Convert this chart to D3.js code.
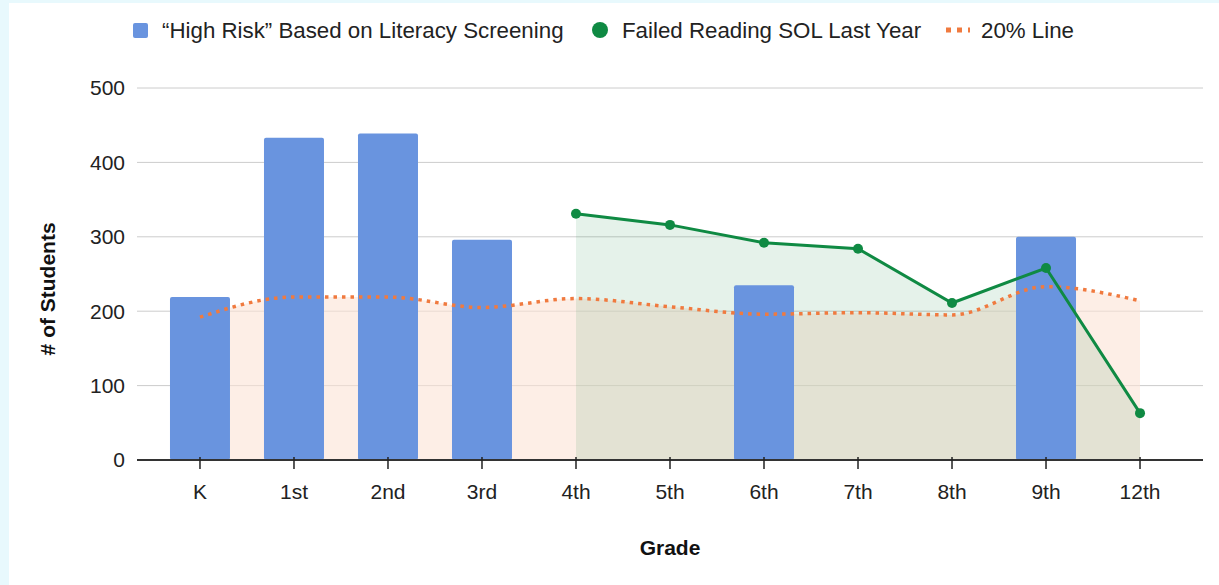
<!DOCTYPE html>
<html>
<head>
<meta charset="utf-8">
<script src="https://cdn.jsdelivr.net/npm/d3@7"></script>
<style>
  body { margin: 0; background: #e8f9fd; }
  svg { display: block; font-family: "Liberation Sans", Arial, sans-serif; }
</style>
</head>
<body>
<svg id="chart" width="1219" height="585"></svg>
<script>
const grades = ["K", "1st", "2nd", "3rd", "4th", "5th", "6th", "7th", "8th", "9th", "12th"];
const highRisk = [219, 433, 439, 296, 0, 0, 235, 0, 0, 300, 0];
const failedSOL = [null, null, null, null, 331, 316, 292, 284, 211, 258, 63];
const twentyPct = [192, 219, 219, 205, 217, 206, 196, 198, 195, 233, 214];
const yTicks = [0, 100, 200, 300, 400, 500];

const width = 1219, height = 585;
const margin = { top: 88, right: 16, bottom: 125, left: 137 };

const svg = d3.select("#chart");

// white panel
svg.append("rect")
  .attr("x", 9).attr("y", 3)
  .attr("width", width - 9).attr("height", height - 3)
  .style("fill", "white");

const x = d3.scalePoint()
  .domain(grades)
  .range([margin.left, width - margin.right])
  .padding(0.67);

const y = d3.scaleLinear()
  .domain([0, 500])
  .range([height - margin.bottom, margin.top]);

const barW = 60;

// gridlines
svg.append("g")
  .selectAll("line")
  .data(yTicks.slice(1))
  .enter().append("line")
  .attr("x1", margin.left).attr("x2", width - margin.right)
  .attr("y1", d => y(d)).attr("y2", d => y(d))
  .style("stroke", "#cccccc")
  .style("stroke-width", "1px");

// y tick labels
svg.append("g")
  .selectAll("text")
  .data(yTicks)
  .enter().append("text")
  .attr("x", 125)
  .attr("y", d => y(d))
  .attr("dy", "0.35em")
  .attr("text-anchor", "end")
  .style("font-size", "21px")
  .style("fill", "#222")
  .text(d => d);

// areas
const orangeArea = d3.area()
  .x((d, i) => x(grades[i]))
  .y0(y(0))
  .y1(d => y(d))
  .curve(d3.curveMonotoneX);

svg.append("path")
  .datum(twentyPct)
  .attr("d", orangeArea)
  .style("fill", "#fbe3d6")
  .style("opacity", 0.6);

const greenPts = failedSOL.map((v, i) => ({ g: grades[i], v: v })).filter(d => d.v !== null);

const greenArea = d3.area()
  .x(d => x(d.g))
  .y0(y(0))
  .y1(d => y(d.v));

svg.append("path")
  .datum(greenPts)
  .attr("d", greenArea)
  .style("fill", "#0f8a43")
  .style("opacity", 0.11);

// bars
svg.append("g")
  .selectAll("rect")
  .data(highRisk.map((v, i) => ({ g: grades[i], v: v })).filter(d => d.v > 0))
  .enter().append("rect")
  .attr("x", d => x(d.g) - barW / 2)
  .attr("y", d => y(d.v))
  .attr("width", barW)
  .attr("height", d => y(0) - y(d.v))
  .attr("rx", 2)
  .style("fill", "#6994df");

// x axis line + ticks
svg.append("line")
  .attr("x1", margin.left).attr("x2", width - margin.right)
  .attr("y1", y(0)).attr("y2", y(0))
  .style("stroke", "#333")
  .style("stroke-width", "2px");

svg.append("g")
  .selectAll("line")
  .data(grades)
  .enter().append("line")
  .attr("x1", d => x(d)).attr("x2", d => x(d))
  .attr("y1", y(0) - 3).attr("y2", y(0) + 9)
  .style("stroke", "#222")
  .style("stroke-width", "1.5px");

svg.append("g")
  .selectAll("text")
  .data(grades)
  .enter().append("text")
  .attr("x", d => x(d))
  .attr("y", 499)
  .attr("text-anchor", "middle")
  .style("font-size", "21px")
  .style("fill", "#222")
  .text(d => d);

// orange dotted line
const orangeLine = d3.line()
  .x((d, i) => x(grades[i]))
  .y(d => y(d))
  .curve(d3.curveMonotoneX);

svg.append("path")
  .datum(twentyPct)
  .attr("d", orangeLine)
  .style("fill", "none")
  .style("stroke", "#f07a3f")
  .style("stroke-width", "3.5px")
  .style("stroke-dasharray", "3.5,5");

// green line
const greenLine = d3.line()
  .x(d => x(d.g))
  .y(d => y(d.v));

svg.append("path")
  .datum(greenPts)
  .attr("d", greenLine)
  .style("fill", "none")
  .style("stroke", "#0f8a43")
  .style("stroke-width", "3px");

svg.append("g")
  .selectAll("circle")
  .data(greenPts)
  .enter().append("circle")
  .attr("cx", d => x(d.g))
  .attr("cy", d => y(d.v))
  .attr("r", 5)
  .style("fill", "#0f8a43");

// axis titles
svg.append("text")
  .attr("x", x("5th"))
  .attr("y", 555)
  .attr("text-anchor", "middle")
  .style("font-size", "21px")
  .style("font-weight", "bold")
  .style("fill", "#111")
  .text("Grade");

svg.append("text")
  .attr("transform", "translate(55," + y(230) + ") rotate(-90)")
  .attr("text-anchor", "middle")
  .style("font-size", "21px")
  .style("font-weight", "bold")
  .style("fill", "#111")
  .text("# of Students");

// legend
const legend = svg.append("g").style("font-size", "22.3px").style("fill", "#222");

legend.append("rect")
  .attr("x", 133).attr("y", 23)
  .attr("width", 15).attr("height", 15)
  .attr("rx", 2)
  .style("fill", "#6994df");
legend.append("text").attr("x", 162).attr("y", 30).attr("dy", "0.35em")
  .text("\u201cHigh Risk\u201d Based on Literacy Screening");

legend.append("circle")
  .attr("cx", 600).attr("cy", 30).attr("r", 8)
  .style("fill", "#0f8a43");
legend.append("text").attr("x", 622).attr("y", 30).attr("dy", "0.35em")
  .text("Failed Reading SOL Last Year");

legend.append("line")
  .attr("x1", 946).attr("x2", 970)
  .attr("y1", 30).attr("y2", 30)
  .style("stroke", "#f07a3f")
  .style("stroke-width", "5px")
  .style("stroke-dasharray", "5,6");
legend.append("text").attr("x", 981).attr("y", 30).attr("dy", "0.35em")
  .text("20% Line");
</script>
</body>
</html>
